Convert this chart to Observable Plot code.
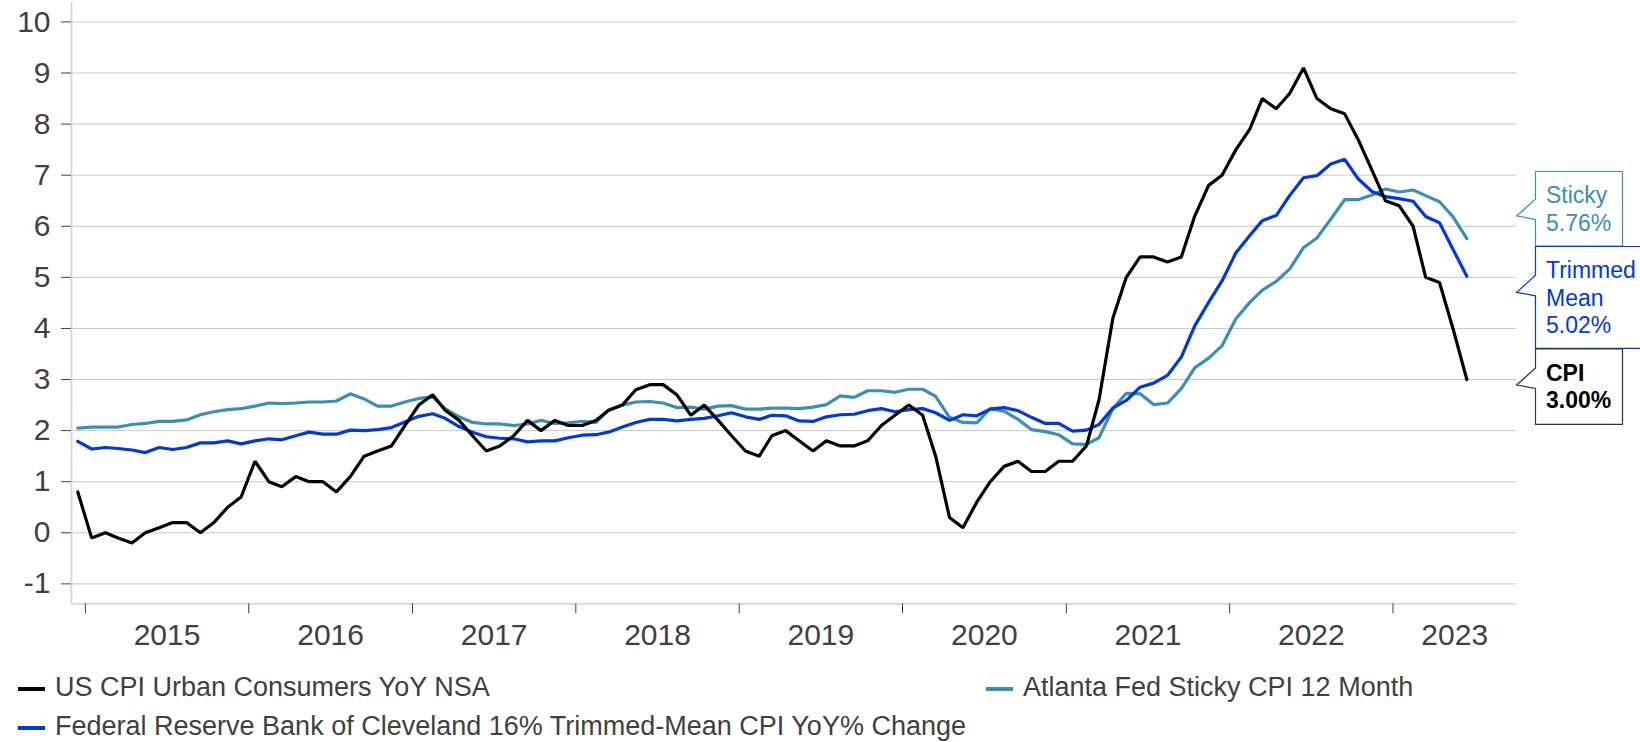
<!DOCTYPE html>
<html><head><meta charset="utf-8">
<script src="https://cdn.jsdelivr.net/npm/d3@7"></script>
<script src="https://cdn.jsdelivr.net/npm/@observablehq/plot@0.6"></script>
<style>
html,body{margin:0;padding:0;background:#fff;overflow:hidden;}
#chart svg{display:block}
.legend{font-family:"Liberation Sans",Arial,sans-serif;font-size:27px;color:#404040;position:relative;height:74px;}
.item{position:absolute;display:flex;align-items:center;height:39px;line-height:39px;white-space:nowrap}
.sw{display:inline-block;width:27px;height:4px;margin-right:10px;position:relative;top:1px}
</style></head><body>
<div id="chart"></div>
<div class="legend" id="legend"></div>
<script>
// ---- data (monthly, Dec 2014 .. Jun 2023) ----
const seriesNames = ["Atlanta Fed Sticky CPI 12 Month",
  "Federal Reserve Bank of Cleveland 16% Trimmed-Mean CPI YoY% Change",
  "US CPI Urban Consumers YoY NSA"];
const seriesColors = ["#3a8fb2", "#0039d6", "#000000"];
const firstMonth = [2014, 11]; // Dec 2014
const lastMonth = [2023, 5];   // Jun 2023

const cpi = [0.8,
 -0.1,0.0,-0.1,-0.2,0.0,0.1,0.2,0.2,0.0,0.2,0.5,0.7,
 1.4,1.0,0.9,1.1,1.0,1.0,0.8,1.1,1.5,1.6,1.7,2.1,
 2.5,2.7,2.4,2.2,1.9,1.6,1.7,1.9,2.2,2.0,2.2,2.1,
 2.1,2.2,2.4,2.5,2.8,2.9,2.9,2.7,2.3,2.5,2.2,1.9,
 1.6,1.5,1.9,2.0,1.8,1.6,1.8,1.7,1.7,1.8,2.1,2.3,
 2.5,2.3,1.5,0.3,0.1,0.6,1.0,1.3,1.4,1.2,1.2,1.4,
 1.4,1.7,2.6,4.2,5.0,5.4,5.4,5.3,5.4,6.2,6.8,7.0,
 7.5,7.9,8.5,8.3,8.6,9.1,8.5,8.3,8.2,7.7,7.1,6.5,
 6.4,6.0,5.0,4.9,4.0,3.0];

const trimmed = [1.79,
 1.64,1.67,1.65,1.62,1.57,1.67,1.63,1.67,1.76,1.76,1.80,1.74,
 1.80,1.84,1.82,1.90,1.97,1.93,1.93,2.01,2.00,2.02,2.06,2.17,
 2.28,2.33,2.24,2.08,1.97,1.88,1.85,1.84,1.78,1.80,1.80,1.86,
 1.91,1.92,1.97,2.07,2.16,2.22,2.22,2.19,2.22,2.24,2.29,2.35,
 2.27,2.22,2.30,2.29,2.19,2.18,2.27,2.31,2.32,2.39,2.43,2.37,
 2.41,2.43,2.35,2.20,2.31,2.29,2.42,2.45,2.39,2.26,2.14,2.14,
 1.99,2.01,2.12,2.44,2.59,2.85,2.93,3.08,3.44,4.05,4.51,4.93,
 5.48,5.82,6.11,6.21,6.60,6.95,6.99,7.22,7.31,6.93,6.68,6.58,
 6.54,6.49,6.19,6.07,5.55,5.02];

const sticky = [2.05,
 2.07,2.07,2.07,2.12,2.14,2.18,2.18,2.21,2.31,2.37,2.41,2.43,
 2.48,2.54,2.53,2.54,2.56,2.56,2.58,2.72,2.62,2.48,2.48,2.56,
 2.63,2.66,2.43,2.27,2.16,2.13,2.13,2.10,2.13,2.20,2.14,2.15,
 2.18,2.16,2.40,2.50,2.56,2.57,2.54,2.45,2.46,2.42,2.48,2.49,
 2.42,2.42,2.44,2.44,2.43,2.46,2.51,2.68,2.65,2.78,2.78,2.75,
 2.81,2.81,2.67,2.26,2.16,2.15,2.43,2.38,2.22,2.02,1.98,1.92,
 1.74,1.73,1.86,2.43,2.73,2.72,2.51,2.54,2.82,3.23,3.42,3.66,
 4.19,4.51,4.75,4.92,5.16,5.58,5.77,6.14,6.52,6.52,6.61,6.73,
 6.67,6.71,6.60,6.48,6.19,5.76];

const yTicks = [-1,0,1,2,3,4,5,6,7,8,9,10];
const yearLabels = ["2015","2016","2017","2018","2019","2020","2021","2022","2023"];
const calloutNames = [["Sticky"], ["Trimmed","Mean"], ["CPI"]];

// ---- build ----
const months = d3.utcMonth.range(new Date(Date.UTC(firstMonth[0], firstMonth[1], 1)),
                                 new Date(Date.UTC(lastMonth[0], lastMonth[1] + 1, 1)))
  .map(d => d3.utcDay.offset(d, 14));
const seriesValues = [sticky, trimmed, cpi];
const rows = [];
seriesValues.forEach((vals, s) => vals.forEach((v, i) => rows.push({date: months[i], value: v, series: seriesNames[s]})));

const xDomain = [new Date(Date.UTC(2014, 11, 1)), new Date(Date.UTC(2023, 9, 4))];
const yDomain = [-1.39, 10.38];
const yearStarts = yearLabels.map(y => new Date(Date.UTC(+y, 0, 1)));
const labelPos = yearStarts.map(d => {
  const e = d3.utcYear.offset(d, 1);
  const end = e > xDomain[1] ? xDomain[1] : e;
  return new Date((+d + +end) / 2);
});

const FONT = '"Liberation Sans", Arial, sans-serif';
const plot = Plot.plot({
  width: 1640, height: 668,
  marginLeft: 71, marginRight: 124, marginTop: 2, marginBottom: 64.7,
  style: {fontFamily: FONT, color: "#404040", background: "#fff"},
  x: {type: "utc", domain: xDomain},
  y: {domain: yDomain},
  color: {domain: seriesNames, range: seriesColors},
  marks: [
    Plot.gridY(yTicks, {stroke: "#c8c8c8", strokeOpacity: 1, strokeWidth: 1}),
    Plot.ruleX([xDomain[0]], {stroke: "#d9d9d9", strokeWidth: 2}),
    Plot.ruleY([yDomain[0]], {stroke: "#d9d9d9", strokeWidth: 2}),
    Plot.axisY(yTicks, {tickSize: 10, tickPadding: 11, fontSize: 30, tickFormat: d => String(d), label: null}),
    Plot.axisX(yearStarts, {tickSize: 10, tickFormat: () => "", label: null}),
    Plot.axisX(labelPos, {tickSize: 0, tickPadding: 20, fontSize: 30, tickFormat: d3.utcFormat("%Y"), label: null}),
    Plot.line(rows, {x: "date", y: "value", z: "series", stroke: "series", strokeWidth: 3.2, strokeLinejoin: "miter"})
  ]
});
document.getElementById("chart").appendChild(plot);

// ---- callouts on the right ----
const lastVals = [sticky[sticky.length-1], trimmed[trimmed.length-1], cpi[cpi.length-1]];
const boxes = [
  {top: 171.5, bottom: 246, right: 1622.5, tip: 216, base: 203.3, color: seriesColors[0], border: seriesColors[0], bold: false},
  {top: 246.5, bottom: 348.3, right: 1680, tip: 292.3, base: 278.3, color: seriesColors[1], border: seriesColors[1], bold: false},
  {top: 349, bottom: 424.3, right: 1622.5, tip: 385, base: 380.7, color: "#000", border: "#333", bold: true}
];
const svg = d3.select(plot);
const g = svg.append("g").attr("font-family", FONT).attr("font-size", 23).attr("text-anchor", "start");
const bx = 1535.5, tipX = 1516.7;
boxes.forEach((b, k) => {
  g.append("path")
    .attr("d", `M${bx},${b.top}H${b.right}V${b.bottom}H${bx}V${b.tip+3.5}L${tipX},${b.tip}L${bx},${b.tip-17}Z`)
    .attr("fill", "#fff").attr("stroke", b.border).attr("stroke-width", 1.2);
  const lines = [...calloutNames[k], lastVals[k].toFixed(2) + "%"];
  lines.forEach((t, j) => {
    g.append("text").attr("x", 1546).attr("y", b.base + j * 27.5)
      .attr("text-anchor", "start")
      .attr("fill", b.color).attr("font-weight", b.bold ? "bold" : null).text(t);
  });
});

// ---- legend ----
const legendItems = [
  {name: seriesNames[2], color: seriesColors[2], left: 18, top: 0},
  {name: seriesNames[1], color: seriesColors[1], left: 18, top: 39},
  {name: seriesNames[0], color: seriesColors[0], left: 986, top: 0}
];
const leg = d3.select("#legend");
legendItems.forEach(it => {
  const d = leg.append("div").attr("class", "item").style("left", it.left + "px").style("top", it.top + "px");
  d.append("span").attr("class", "sw").style("background", it.color);
  d.append("span").text(it.name);
});
</script>
</body></html>
